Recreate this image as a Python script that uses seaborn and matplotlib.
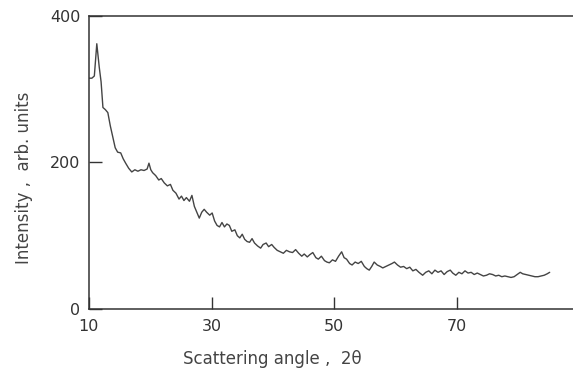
import numpy as np
import pandas as pd
import matplotlib
matplotlib.use('Agg')
import matplotlib.pyplot as plt
import seaborn as sns

# 산란 각도 / 강도
angle = [10.0, 10.5, 10.9, 11.3, 11.7, 12.0, 12.3, 12.7, 13.1, 13.5, 13.9, 14.3, 14.7, 15.2, 15.6,
         16.0, 16.5, 17.0, 17.5, 18.0, 18.5, 19.0, 19.5, 19.8, 20.1, 20.4, 20.9, 21.4, 21.8, 22.3,
         22.8, 23.3, 23.7, 24.2, 24.7, 25.1, 25.5, 25.9, 26.4, 26.8, 27.2, 27.6, 28.0, 28.4, 28.8,
         29.2, 29.7, 30.1, 30.5, 30.9, 31.3, 31.7, 32.1, 32.5, 32.9, 33.3, 33.8, 34.2, 34.6, 35.0,
         35.4, 35.8, 36.2, 36.6, 37.0, 37.5, 38.0, 38.4, 38.9, 39.3, 39.8, 40.2, 40.7, 41.2, 41.7,
         42.2, 42.7, 43.2, 43.7, 44.2, 44.7, 45.1, 45.6, 46.0, 46.5, 47.0, 47.4, 47.9, 48.4, 48.8,
         49.2, 49.7, 50.2, 50.7, 51.2, 51.6, 52.0, 52.5, 52.9, 53.4, 53.9, 54.4, 54.9, 55.3, 55.7,
         56.1, 56.5, 57.0, 57.5, 57.9, 58.4, 58.9, 59.4, 59.8, 60.3, 60.8, 61.3, 61.8, 62.3, 62.8,
         63.3, 63.8, 64.4, 64.9, 65.4, 65.9, 66.4, 66.9, 67.4, 67.9, 68.4, 68.9, 69.3, 69.8, 70.3,
         70.8, 71.3, 71.8, 72.3, 72.8, 73.3, 73.8, 74.3, 74.8, 75.3, 75.8, 76.3, 76.8, 77.3, 77.8,
         78.3, 78.8, 79.3, 79.8, 80.3, 80.7, 81.2, 81.7, 82.2, 82.7, 83.2, 83.7, 84.2, 84.7, 85.1]
intensity = [315, 315, 318, 362, 330, 310, 275, 272, 268, 250, 235, 220, 214, 213, 205,
             199, 192, 187, 190, 188, 190, 189, 191, 199, 190, 186, 182, 176, 178, 172,
             168, 170, 162, 158, 150, 154, 148, 152, 147, 155, 140, 132, 124, 132, 136,
             132, 128, 131, 120, 114, 112, 118, 112, 116, 114, 106, 108, 100, 97, 102,
             95, 92, 91, 96, 90, 86, 83, 88, 90, 85, 88, 84, 80, 78, 76,
             80, 78, 77, 81, 76, 72, 75, 71, 74, 77, 70, 68, 72, 66, 64,
             63, 67, 65, 72, 78, 70, 68, 62, 60, 64, 62, 65, 58, 55, 53,
             58, 64, 60, 58, 56, 58, 60, 62, 64, 60, 57, 58, 55, 57, 52,
             54, 50, 46, 50, 52, 48, 53, 50, 52, 47, 51, 53, 49, 46, 50,
             48, 52, 49, 50, 47, 49, 47, 45, 46, 48, 47, 45, 46, 44, 45,
             44, 43, 44, 47, 50, 48, 47, 46, 45, 44, 44, 45, 46, 48, 50]

x_ticks = [10, 30, 50, 70]
y_ticks = [0, 200, 400]

df = pd.DataFrame({'angle': angle, 'intensity': intensity})

sns.set_style('white')
plt.rcParams['font.family'] = ['DejaVu Sans']

fig = plt.figure(figsize=(5.73, 3.7), dpi=100)
ax = fig.add_axes([0.155, 0.165, 0.845, 0.792])

sns.lineplot(data=df, x='angle', y='intensity', ax=ax, color='#444444', linewidth=1.0)

ax.set_xlim(10, 88.9)
ax.set_ylim(0, 400)
ax.set_xticks(x_ticks)
ax.set_yticks(y_ticks)
ax.tick_params(bottom=True, left=True, top=False, right=False,
               direction='in', length=9, width=1.0, colors='#333333',
               labelsize=11.5, labelcolor='#333333', pad=6)
ax.tick_params(axis='x', pad=7)

for side in ['left', 'top', 'bottom']:
    ax.spines[side].set_color('#333333')
    ax.spines[side].set_linewidth(1.1)
ax.spines['right'].set_visible(False)

ax.set_xlabel('Scattering angle ,  2θ', fontsize=12, color='#444444', labelpad=10)
ax.xaxis.set_label_coords(0.378, -0.14)
ax.set_ylabel('Intensity ,  arb. units', fontsize=12, color='#444444')
ax.yaxis.set_label_coords(-0.115, 0.447)

plt.savefig('out.png', dpi=100)
